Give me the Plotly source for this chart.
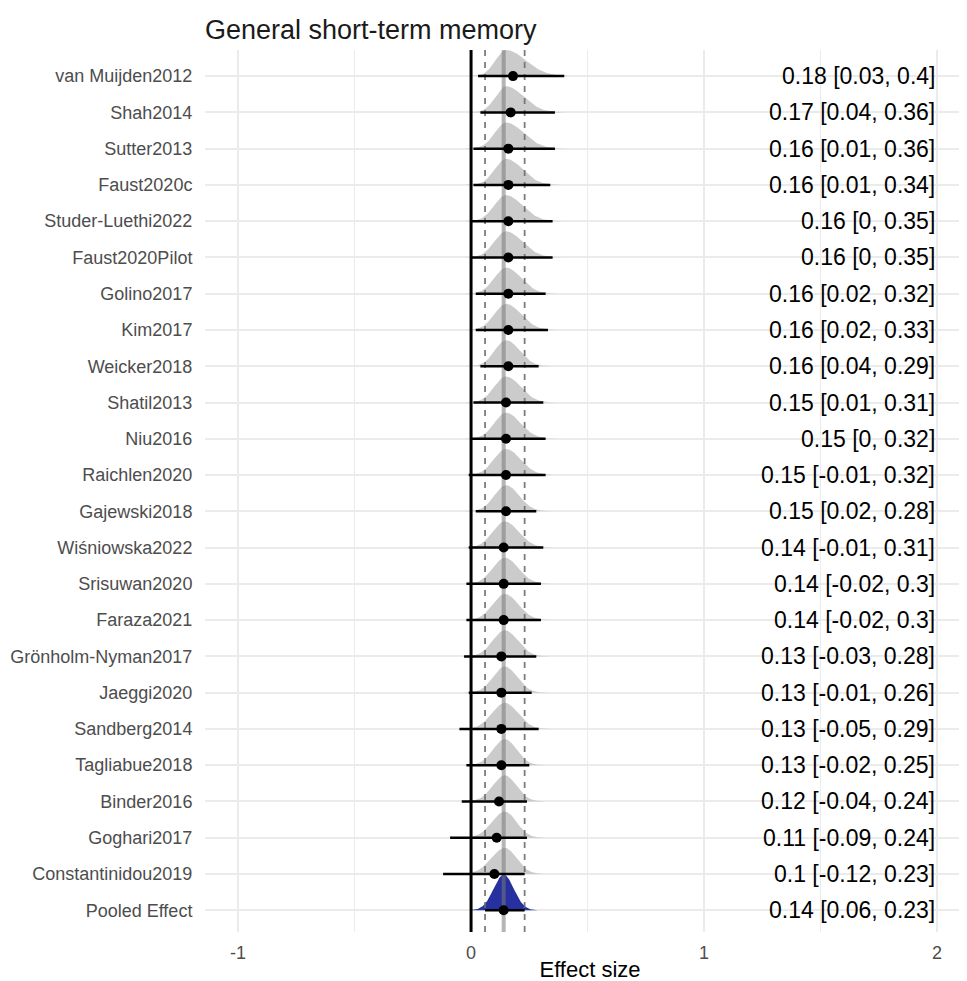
import numpy as np
import plotly.graph_objects as go

# ---------------- data ----------------
studies = ["van Muijden2012", "Shah2014", "Sutter2013", "Faust2020c", "Studer-Luethi2022",
           "Faust2020Pilot", "Golino2017", "Kim2017", "Weicker2018", "Shatil2013", "Niu2016",
           "Raichlen2020", "Gajewski2018", "Wiśniowska2022", "Srisuwan2020", "Faraza2021",
           "Grönholm-Nyman2017", "Jaeggi2020", "Sandberg2014", "Tagliabue2018", "Binder2016",
           "Goghari2017", "Constantinidou2019"]
estimate = [0.18, 0.17, 0.16, 0.16, 0.16, 0.16, 0.16, 0.16, 0.16, 0.15, 0.15, 0.15, 0.15,
            0.14, 0.14, 0.14, 0.13, 0.13, 0.13, 0.13, 0.12, 0.11, 0.10]
ci_low = [0.03, 0.04, 0.01, 0.01, 0.00, 0.00, 0.02, 0.02, 0.04, 0.01, 0.00, -0.01, 0.02,
          -0.01, -0.02, -0.02, -0.03, -0.01, -0.05, -0.02, -0.04, -0.09, -0.12]
ci_high = [0.40, 0.36, 0.36, 0.34, 0.35, 0.35, 0.32, 0.33, 0.29, 0.31, 0.32, 0.32, 0.28,
           0.31, 0.30, 0.30, 0.28, 0.26, 0.29, 0.25, 0.24, 0.24, 0.23]
labels = ["0.18 [0.03, 0.4]", "0.17 [0.04, 0.36]", "0.16 [0.01, 0.36]", "0.16 [0.01, 0.34]",
          "0.16 [0, 0.35]", "0.16 [0, 0.35]", "0.16 [0.02, 0.32]", "0.16 [0.02, 0.33]",
          "0.16 [0.04, 0.29]", "0.15 [0.01, 0.31]", "0.15 [0, 0.32]", "0.15 [-0.01, 0.32]",
          "0.15 [0.02, 0.28]", "0.14 [-0.01, 0.31]", "0.14 [-0.02, 0.3]", "0.14 [-0.02, 0.3]",
          "0.13 [-0.03, 0.28]", "0.13 [-0.01, 0.26]", "0.13 [-0.05, 0.29]", "0.13 [-0.02, 0.25]",
          "0.12 [-0.04, 0.24]", "0.11 [-0.09, 0.24]", "0.1 [-0.12, 0.23]"]
# posterior density shapes (mode, left spread, right spread)
dens_mode = [0.15, 0.15, 0.15, 0.15, 0.15, 0.15, 0.15, 0.15, 0.15, 0.15, 0.15, 0.15, 0.15,
             0.145, 0.145, 0.145, 0.145, 0.145, 0.145, 0.145, 0.145, 0.145, 0.145]
dens_sd_left = [0.045, 0.045, 0.048, 0.048, 0.05, 0.05, 0.05, 0.05, 0.048, 0.05, 0.05, 0.052, 0.05,
                0.052, 0.052, 0.052, 0.052, 0.05, 0.055, 0.05, 0.052, 0.055, 0.058]
dens_sd_right = [0.085, 0.075, 0.075, 0.07, 0.07, 0.07, 0.065, 0.065, 0.058, 0.062, 0.062, 0.062, 0.056,
                 0.06, 0.058, 0.058, 0.055, 0.052, 0.056, 0.05, 0.05, 0.05, 0.05]

pooled_name = "Pooled Effect"
pooled_est = 0.14
pooled_low = 0.06
pooled_high = 0.23
pooled_label = "0.14 [0.06, 0.23]"

x_ticks = [-1, 0, 1, 2]
x_tick_text = ["-1", "0", "1", "2"]

# ---------------- figure ----------------
n = len(studies)
ypos = [n - i for i in range(n)]  # top study at n, pooled at 0
y_lo, y_hi = -0.6, n + 0.72
FONT = "Liberation Sans, Arial, Helvetica, sans-serif"

fig = go.Figure()

gray_h = 0.72
for i in range(n):
    m, sl, sr = dens_mode[i], dens_sd_left[i], dens_sd_right[i]
    xs = np.linspace(m - 3.5 * sl, m + 3.5 * sr, 120)
    d = np.where(xs < m, np.exp(-0.5 * ((xs - m) / sl) ** 2), np.exp(-0.5 * ((xs - m) / sr) ** 2))
    ys = ypos[i] + gray_h * d
    fig.add_trace(go.Scatter(x=np.concatenate([xs, xs[::-1]]),
                             y=np.concatenate([ys, np.full_like(xs, ypos[i])]),
                             fill="toself", fillcolor="rgba(200,200,200,0.95)",
                             line=dict(width=0), mode="lines", hoverinfo="skip", showlegend=False))

# pooled density
sd_p = (pooled_high - pooled_low) / 3.92
xs = np.linspace(pooled_est - 3.3 * sd_p, pooled_est + 3.3 * sd_p, 120)
d = np.exp(-0.5 * ((xs - pooled_est) / sd_p) ** 2)
fig.add_trace(go.Scatter(x=np.concatenate([xs, xs[::-1]]),
                         y=np.concatenate([0 + 0.98 * d, np.zeros_like(xs)]),
                         fill="toself", fillcolor="rgb(38,48,158)",
                         line=dict(width=0), mode="lines", hoverinfo="skip", showlegend=False))

# reference lines
fig.add_trace(go.Scatter(x=[0, 0], y=[y_lo, y_hi], mode="lines",
                         line=dict(color="black", width=3), hoverinfo="skip", showlegend=False))
for xv in [pooled_low, pooled_high]:
    fig.add_trace(go.Scatter(x=[xv, xv], y=[y_lo, y_hi], mode="lines",
                             line=dict(color="rgba(110,110,110,0.9)", width=1.8, dash="6px,6px"),
                             hoverinfo="skip", showlegend=False))
fig.add_trace(go.Scatter(x=[pooled_est, pooled_est], y=[y_lo, y_hi], mode="lines",
                         line=dict(color="rgba(120,120,120,0.55)", width=4),
                         hoverinfo="skip", showlegend=False))

# error bars
all_low = ci_low + [pooled_low]
all_high = ci_high + [pooled_high]
all_est = estimate + [pooled_est]
all_y = ypos + [0]
ex, ey = [], []
for lo, hi, yy in zip(all_low, all_high, all_y):
    ex += [lo, hi, None]
    ey += [yy, yy, None]
fig.add_trace(go.Scatter(x=ex, y=ey, mode="lines", line=dict(color="black", width=2.5),
                         hoverinfo="skip", showlegend=False))
fig.add_trace(go.Scatter(x=all_est, y=all_y, mode="markers",
                         marker=dict(color="black", size=10), showlegend=False))

# right-hand labels
for lab, yy in zip(labels + [pooled_label], all_y):
    fig.add_annotation(x=2, y=yy, text=lab, showarrow=False, xanchor="right", yanchor="middle",
                       font=dict(family=FONT, size=23, color="black"))

fig.update_layout(
    width=967, height=981,
    margin=dict(l=197, r=0, t=42, b=57, autoexpand=False),
    paper_bgcolor="white", plot_bgcolor="white",
    title=dict(text="General short-term memory", xref="paper", x=0, xanchor="left",
               yref="container", y=1 - 22 / 981, yanchor="middle",
               font=dict(family=FONT, size=27, color="#1a1a1a")),
    xaxis=dict(range=[-1.142, 2.163], tickvals=x_ticks, ticktext=x_tick_text,
               showgrid=True, gridcolor="#ebebeb", gridwidth=1.5, zeroline=False,
               minor=dict(tick0=-1, dtick=0.5, showgrid=True, gridcolor="#ebebeb", gridwidth=1),
               ticks="outside", ticklen=4, tickcolor="rgba(0,0,0,0)",
               tickfont=dict(family=FONT, size=18, color="#4d4d4d"),
               title=dict(text="Effect size", standoff=0,
                          font=dict(family=FONT, size=22, color="black")),
               showline=False, fixedrange=True, automargin=False),
    yaxis=dict(range=[y_lo, y_hi], tickvals=all_y, ticktext=studies + [pooled_name],
               showgrid=True, gridcolor="#ebebeb", gridwidth=1.5, zeroline=False,
               ticks="outside", ticklen=8, tickcolor="rgba(0,0,0,0)",
               tickfont=dict(family=FONT, size=18, color="#4d4d4d"),
               showline=False, fixedrange=True, automargin=False),
)

fig.write_html("out.html")
